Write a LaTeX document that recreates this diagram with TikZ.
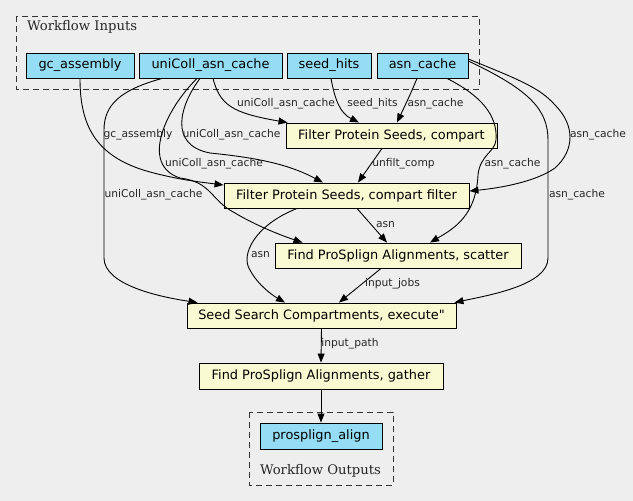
\documentclass[tikz,border=0pt]{standalone}
\usepackage{fontspec}
\setmainfont{DejaVu Sans}[Ligatures=TeXOff]
\newfontfamily\clfont{DejaVu Serif}
\usetikzlibrary{arrows.meta}
\definecolor{bgc}{RGB}{238,238,238}
\definecolor{ioblue}{RGB}{148,221,244}
\definecolor{stepyel}{RGB}{250,250,210}
\begin{document}
\begin{tikzpicture}[x=1pt,y=-1pt,
  box/.style={draw=black, line width=0.9pt, minimum height=25pt, inner sep=0pt, font=\fontsize{12.9}{14}\selectfont},
  io/.style={box, fill=ioblue},
  stepbox/.style={box, fill=stepyel},
  lbl/.style={font=\fontsize{10.7}{12}\selectfont, inner sep=0pt, text=black!85},
  edge/.style={-{Triangle[length=9pt,width=7pt]}, line width=0.9pt},
  cluster/.style={draw=black!80, line width=0.9pt, dash pattern=on 6pt off 4pt},
  cltext/.style={font=\clfont\fontsize{13.2}{15}\selectfont, inner sep=0pt, text=black!85}]
\fill[bgc] (0,0) rectangle (633,501);
\useasboundingbox (0,0) rectangle (633,501);
% clusters
\draw[cluster] (16,16) rectangle (479,89);
\node[cltext, anchor=west] (inlbl) at (27,27) {Workflow Inputs};
\draw[cluster] (249,412) rectangle (393,485);
\node[cltext] (outlbl) at (320.5,471) {Workflow Outputs};
% nodes
\node[io, minimum width=108pt] (gc) at (80,65.5) {gc\_assembly};
\node[io, minimum width=143pt] (uni) at (210.5,65.5) {uniColl\_asn\_cache};
\node[io, minimum width=84pt] (seed) at (329,65.5) {seed\_hits};
\node[io, minimum width=91pt] (asn) at (422.5,65.5) {asn\_cache};
\node[stepbox, minimum width=211pt] (comp) at (391.5,135.5) {Filter Protein Seeds, compart};
\node[stepbox, minimum width=245pt] (cf) at (346.5,195.5) {Filter Protein Seeds, compart filter};
\node[stepbox, minimum width=246pt] (sc) at (398,255.5) {Find ProSplign Alignments, scatter};
\node[stepbox, minimum width=269pt] (ss) at (321.5,315.5) {Seed Search Compartments, execute"};
\node[stepbox, minimum width=244pt, minimum height=26pt] (ga) at (321,376) {Find ProSplign Alignments, gather};
\node[io, minimum width=122pt, minimum height=26pt] (pa) at (321,436) {prosplign\_align};
% edges
\draw[edge] (gc.south) .. controls (80,125) and (95,157) .. (150,172) .. controls (180,180) and (200,182) .. ([yshift=10.5pt]cf.west);
\node[lbl] (l1) at (138,135) {gc\_assembly};
\draw[edge] ([xshift=2.5pt]uni.south) .. controls (220,105) and (232,113) .. ([xshift=2pt]comp.north west);
\node[lbl] (l2) at (286,104) {uniColl\_asn\_cache};
\draw[edge] ([xshift=-10.5pt]uni.south) .. controls (180,105) and (168,145) .. (210,153) .. controls (260,158) and (290,165) .. ([xshift=-23.5pt]cf.north);
\node[lbl] (l3) at (231.5,135) {uniColl\_asn\_cache};
\draw[edge] ([xshift=-13.5pt]uni.south) .. controls (165,110) and (140,165) .. (180,178) .. controls (212,182) and (210,200) .. (235,213) .. controls (255,225) and (280,235) .. ([xshift=28pt]sc.north west);
\node[lbl] (l4) at (214,164) {uniColl\_asn\_cache};
\draw[edge] ([xshift=-48.5pt]uni.south) .. controls (120,90) and (104,105) .. (104,130) -- (104,258) .. controls (104,285) and (160,297) .. ([xshift=11pt]ss.north west);
\node[lbl] (l5) at (153.5,195) {uniColl\_asn\_cache};
\draw[edge] ([xshift=2pt]seed.south) .. controls (335,100) and (340,113) .. ([xshift=-32.5pt]comp.north);
\node[lbl] (l6) at (372.5,104) {seed\_hits};
\draw[edge] ([xshift=-5.5pt]asn.south) .. controls (410,95) .. ([xshift=5.5pt]comp.north);
\node[lbl] (l7) at (435.5,104) {asn\_cache};
\draw[edge] ([yshift=-6.5pt]asn.north east) .. controls (520,80) and (540,88) .. (555,105) .. controls (575,125) and (575,150) .. (555,168) .. controls (535,182) and (500,188) .. ([yshift=4.5pt]cf.east);
\node[lbl] (l8) at (598,135) {asn\_cache};
\draw[edge] ([xshift=24.5pt]asn.south) .. controls (480,95) and (498,115) .. (496,140) .. controls (495,152) and (480,155) .. (478,175) .. controls (476,215) and (455,228) .. ([xshift=32pt]sc.north);
\node[lbl] (l9) at (512.5,164) {asn\_cache};
\draw[edge] ([yshift=-8.5pt]asn.north east) .. controls (530,90) and (548,110) .. (548,140) -- (548,258) .. controls (548,285) and (490,295) .. ([xshift=-2pt]ss.north east);
\node[lbl] (l10) at (577,195) {asn\_cache};
\draw[edge] ([xshift=-9.5pt]comp.south) -- ([xshift=11.5pt]cf.north);
\node[lbl] (l11) at (403.5,164) {unfilt\_comp};
\draw[edge] ([xshift=10.5pt]cf.south) -- ([xshift=-11pt]sc.north);
\node[lbl] (l12) at (385.5,225) {asn};
\draw[edge] ([xshift=-49.5pt]cf.south) .. controls (255,225) and (240,255) .. (250,270) .. controls (258,285) and (272,295) .. ([xshift=-36.5pt]ss.north);
\node[lbl] (l13) at (260.5,255) {asn};
\draw[edge] ([xshift=-17pt]sc.south) -- ([xshift=17.5pt]ss.north);
\node[lbl] (l14) at (392.5,284) {input\_jobs};
\draw[edge] (ss.south) -- (ga.north);
\node[lbl] (l15) at (350,344) {input\_path};
\draw[edge] (ga.south) -- (pa.north);
\end{tikzpicture}
\end{document}
